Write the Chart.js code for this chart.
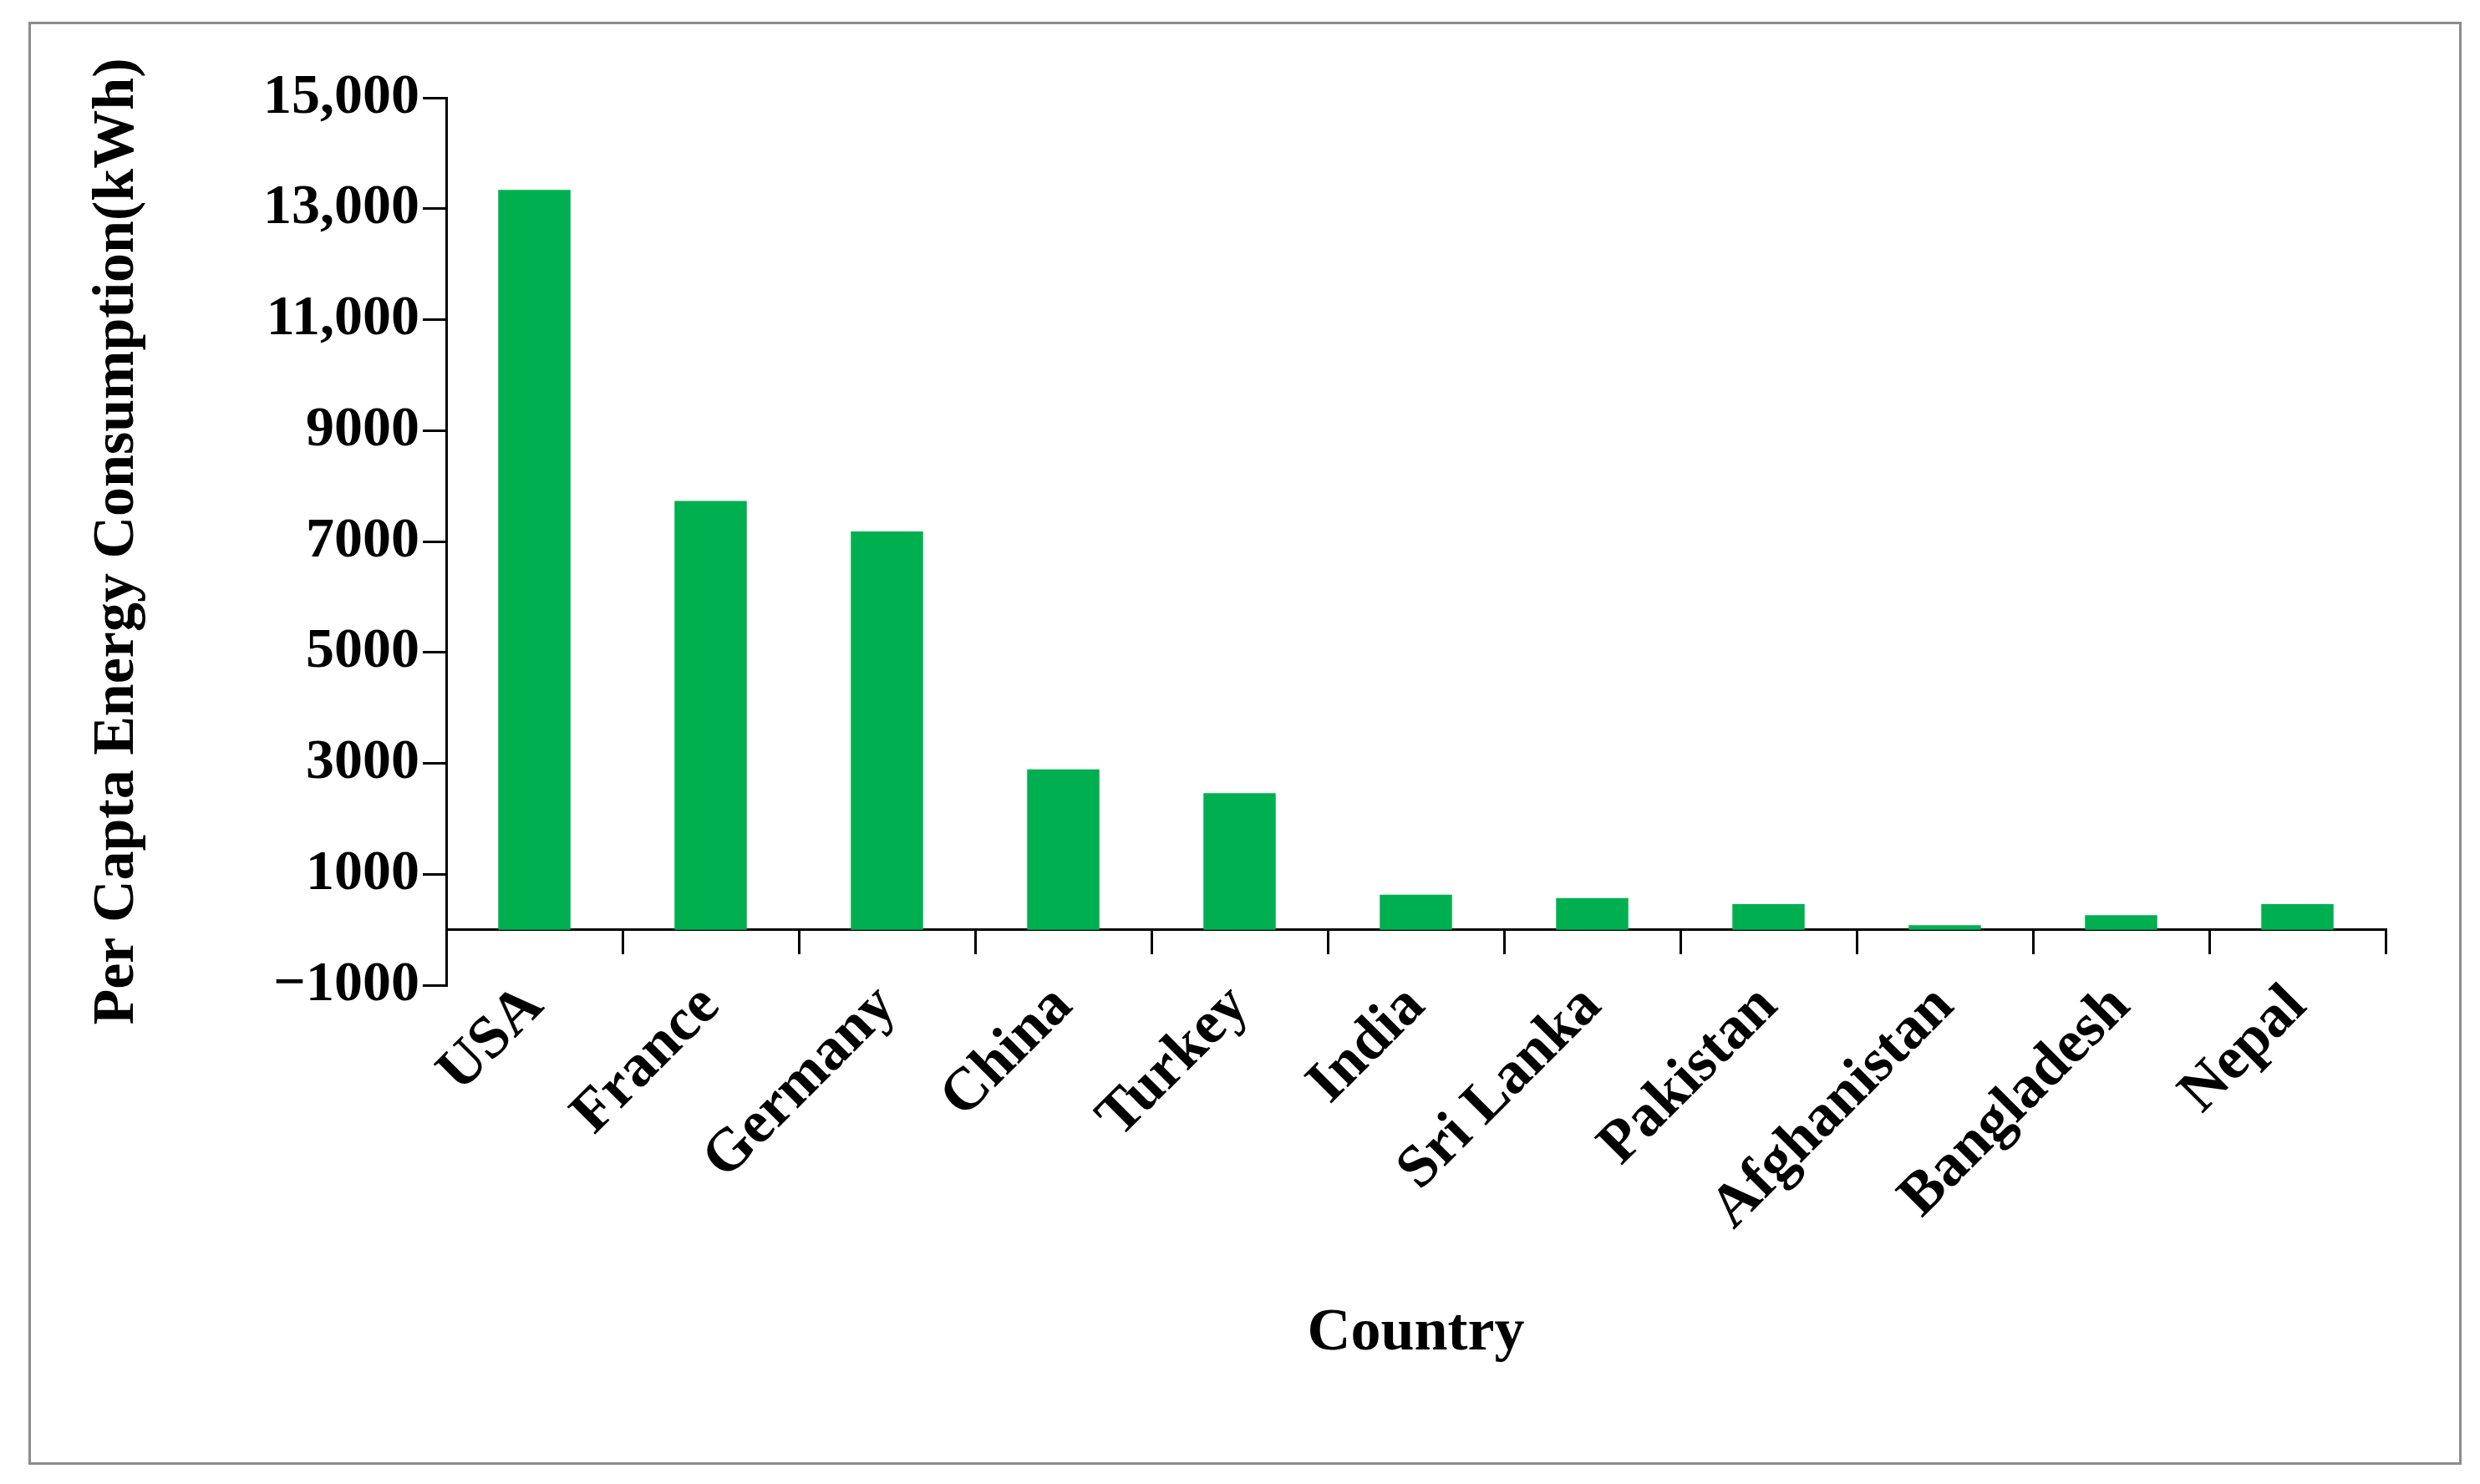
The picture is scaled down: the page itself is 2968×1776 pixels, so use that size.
<!DOCTYPE html>
<html><head><meta charset="utf-8">
<script src="https://cdn.jsdelivr.net/npm/chart.js@4/dist/chart.umd.min.js"></script>
<style>
html,body{margin:0;background:#fff;width:2968px;height:1776px;overflow:hidden}
#box{position:absolute;left:34px;top:26px;width:2906px;height:1721px;border:3px solid #8c8c8c}
canvas{display:block}
</style></head><body>
<div id="box"><canvas id="c" width="2906" height="1721"></canvas></div>
<script>
const categories=["USA","France","Germany","China","Turkey","India","Sri Lanka","Pakistan","Afghanistan","Bangladesh","Nepal"];
const consumption=[13340,7730,7180,2890,2460,630,570,460,80,260,460];
const yTicks=[-1000,1000,3000,5000,7000,9000,11000,13000,15000];
const FONT="'Liberation Serif', 'Times New Roman', serif";
Chart.defaults.color='#000';
new Chart(document.getElementById('c'),{
 type:'bar',
 data:{labels:categories,datasets:[{data:consumption,backgroundColor:'#00B050',barPercentage:0.82,categoryPercentage:0.5}]},
 options:{
  responsive:false,animation:false,
  layout:{padding:{left:58,top:88,right:88,bottom:571}},
  plugins:{legend:{display:false},tooltip:{enabled:false}},
  scales:{
   x:{position:{y:0},
      grid:{display:true,offset:true,drawOnChartArea:false,color:'#000',lineWidth:3,tickLength:28},
      border:{color:'#000',width:3},
      ticks:{minRotation:45,maxRotation:45,font:{family:FONT,size:72,weight:'bold'},padding:22},
      title:{display:true,text:'Country',font:{family:FONT,size:72,weight:'bold'},padding:{top:95}}},
   y:{min:-1000,max:15000,
      afterBuildTicks:a=>{a.ticks=yTicks.map(v=>({value:v}));},
      grid:{drawOnChartArea:false,color:'#000',lineWidth:3,tickLength:28},
      border:{color:'#000',width:3},
      ticks:{font:{family:FONT,size:68,weight:'bold'},padding:4,
        callback:v=>Math.abs(v)>=10000?v.toLocaleString('en-US'):(v<0?'\u2212'+Math.abs(v):String(v))},
      title:{display:true,text:'Per Capta Energy Consumption(kWh)',font:{family:FONT,size:70,weight:'bold'},padding:{bottom:128}}}
  }
 }
});
</script></body></html>
